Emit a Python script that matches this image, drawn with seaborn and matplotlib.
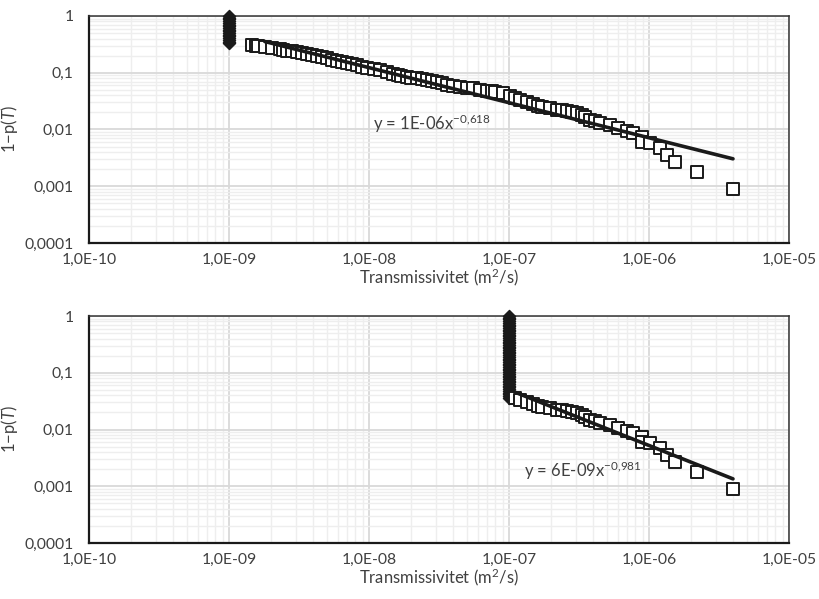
import numpy as np
import pandas as pd
import matplotlib
matplotlib.use("Agg")
import matplotlib.pyplot as plt
import matplotlib.ticker as mticker
import seaborn as sns

# ---------------- data ----------------
# top panel: squares (measured transmissivity) and column below detection limit
top_T = [1.46e-9, 1.55e-9, 1.61e-9, 1.8e-9, 2.03e-9, 2.3e-9, 2.45e-9, 2.6e-9, 2.8e-9, 3.06e-9,
         3.3e-9, 3.6e-9, 3.9e-9, 4.25e-9, 4.6e-9, 5.0e-9, 5.4e-9, 5.9e-9, 6.4e-9, 6.96e-9,
         7.5e-9, 8.2e-9, 8.9e-9, 9.7e-9, 1.08e-8, 1.2e-8, 1.35e-8, 1.48e-8, 1.6e-8, 1.7e-8,
         1.87e-8, 2.0e-8, 2.2e-8, 2.4e-8, 2.6e-8, 2.8e-8, 3.06e-8, 3.3e-8, 3.6e-8, 4.0e-8,
         4.47e-8, 5.0e-8, 5.5e-8, 6.2e-8, 6.96e-8, 7.5e-8, 8.0e-8, 9.1e-8, 1.02e-7, 1.1e-7,
         1.2e-7, 1.35e-7, 1.48e-7, 1.6e-7, 1.72e-7, 1.96e-7, 2.2e-7, 2.4e-7, 2.6e-7, 2.8e-7,
         3.06e-7, 3.3e-7, 3.5e-7, 3.8e-7, 4.1e-7, 4.47e-7, 5.3e-7, 6.0e-7, 6.96e-7, 7.7e-7,
         8.9e-7, 8.9e-7, 1.02e-6, 1.2e-6, 1.35e-6, 1.53e-6, 2.2e-6, 3.98e-6]
top_P = [0.308, 0.300, 0.296, 0.285, 0.273, 0.262, 0.255, 0.245, 0.238, 0.232,
         0.227, 0.218, 0.205, 0.195, 0.188, 0.180, 0.168, 0.158, 0.153, 0.148,
         0.143, 0.136, 0.128, 0.121, 0.116, 0.111, 0.102, 0.094, 0.090, 0.088,
         0.084, 0.082, 0.080, 0.077, 0.074, 0.071, 0.068, 0.065, 0.061, 0.058,
         0.056, 0.0545, 0.0535, 0.050, 0.048, 0.047, 0.046, 0.044, 0.039, 0.036,
         0.0331, 0.0305, 0.028, 0.026, 0.0249, 0.0239, 0.0225, 0.0222, 0.021, 0.020,
         0.0195, 0.018, 0.0166, 0.0147, 0.014, 0.013, 0.012, 0.0106, 0.0094, 0.0087,
         0.0074, 0.006, 0.0058, 0.0047, 0.00355, 0.00267, 0.00178, 0.00089]
top_col_T = 1e-9
top_col_P = [1.0, 0.933, 0.871, 0.813, 0.759, 0.708, 0.661, 0.617, 0.575, 0.537,
             0.501, 0.468, 0.437, 0.407, 0.380, 0.355, 0.331]

# bottom panel
bot_T = [1.1e-7, 1.2e-7, 1.35e-7, 1.48e-7, 1.6e-7, 1.72e-7, 1.96e-7, 2.2e-7, 2.4e-7, 2.6e-7,
         2.8e-7, 3.06e-7, 3.3e-7, 3.5e-7, 3.8e-7, 4.1e-7, 4.47e-7, 5.3e-7, 6.0e-7, 6.96e-7,
         7.7e-7, 8.9e-7, 8.9e-7, 1.02e-6, 1.2e-6, 1.35e-6, 1.53e-6, 2.2e-6, 3.98e-6]
bot_P = [0.036, 0.0331, 0.0305, 0.028, 0.026, 0.0249, 0.0239, 0.0225, 0.0222, 0.021,
         0.020, 0.0195, 0.018, 0.0166, 0.0147, 0.014, 0.013, 0.012, 0.0106, 0.0094,
         0.0087, 0.0074, 0.006, 0.0058, 0.0047, 0.00355, 0.00267, 0.00178, 0.00089]
bot_col_T = 1e-7
bot_col_P = [1.0, 0.933, 0.871, 0.813, 0.759, 0.708, 0.661, 0.617, 0.575, 0.537,
             0.501, 0.468, 0.437, 0.407, 0.380, 0.355, 0.331, 0.309, 0.288, 0.269,
             0.251, 0.234, 0.219, 0.204, 0.191, 0.178, 0.166, 0.155, 0.145, 0.135,
             0.126, 0.118, 0.110, 0.102, 0.0955, 0.0891, 0.0832, 0.0776, 0.0724, 0.0676,
             0.0631, 0.0589, 0.0550, 0.0513, 0.0479, 0.0447, 0.0417, 0.0389, 0.0363]

# trend lines (power law a*x^b) and their labels
top_trend = dict(a=1.4e-6, b=-0.618, x0=1.8e-9, x1=3.98e-6,
                 label="y = 1E-06x", exp_label="-0,618")
bot_trend = dict(a=6.8e-9, b=-0.981, x0=1.1e-7, x1=3.98e-6,
                 label="y = 6E-09x", exp_label="-0,981")

x_ticks = [1e-10, 1e-9, 1e-8, 1e-7, 1e-6, 1e-5]
x_tick_labels = ["1,0E-10", "1,0E-09", "1,0E-08", "1,0E-07", "1,0E-06", "1,0E-05"]
y_ticks = [1e-4, 1e-3, 1e-2, 1e-1, 1]
y_tick_labels = ["0,0001", "0,001", "0,01", "0,1", "1"]

# ---------------- style ----------------
sns.set_theme(style="white")
FONT = "Lato"
plt.rcParams["font.family"] = [FONT, "DejaVu Sans"]
plt.rcParams["mathtext.fontset"] = "custom"
plt.rcParams["mathtext.rm"] = FONT
plt.rcParams["mathtext.it"] = FONT + ":italic"
TXT = "#404040"

fig = plt.figure(figsize=(8.19, 5.99), dpi=100)
ax_top = fig.add_axes([89 / 819, 1 - 243 / 599, 700 / 819, 227 / 599])
ax_bot = fig.add_axes([89 / 819, 1 - 543 / 599, 700 / 819, 227 / 599])


def draw(ax, T, P, colT, colP, trend, text_xy):
    ax.set_xscale("log")
    ax.set_yscale("log")
    ax.set_xlim(1e-10, 1e-5)
    ax.set_ylim(1e-4, 1)
    ax.grid(True, which="major", color="#d9d9d9", lw=1.3)
    ax.grid(True, which="minor", color="#eeeeee", lw=1.0)
    ax.set_axisbelow(True)

    col_df = pd.DataFrame({"T": [colT] * len(colP), "P": colP})
    sns.scatterplot(data=col_df, x="T", y="P", marker="D", s=38, color="#1a1a1a",
                    edgecolor="#1a1a1a", linewidth=1.0, ax=ax, zorder=3, clip_on=False)

    xs = np.array([trend["x0"], trend["x1"]])
    ys = trend["a"] * xs ** trend["b"]
    sns.lineplot(x=xs, y=ys, color="#1a1a1a", lw=2.6, ax=ax, zorder=5, sort=False)

    df = pd.DataFrame({"T": T, "P": P})
    sns.scatterplot(data=df, x="T", y="P", marker="s", s=70, facecolor="white",
                    edgecolor="#1a1a1a", linewidth=1.4, ax=ax, zorder=4)

    ax.set_xticks(x_ticks)
    ax.set_xticklabels(x_tick_labels)
    ax.set_yticks(y_ticks)
    ax.set_yticklabels(y_tick_labels)
    ax.xaxis.set_minor_locator(mticker.LogLocator(base=10, subs=np.arange(2, 10)))
    ax.yaxis.set_minor_locator(mticker.LogLocator(base=10, subs=np.arange(2, 10)))
    ax.xaxis.set_minor_formatter(mticker.NullFormatter())
    ax.yaxis.set_minor_formatter(mticker.NullFormatter())
    ax.tick_params(which="both", direction="in", colors="#1a1a1a", labelcolor=TXT,
                   labelsize=11.3, top=False, right=False, width=1.0)
    ax.tick_params(which="major", length=5)
    ax.tick_params(which="minor", length=4)
    ax.tick_params(axis="x", pad=7)
    ax.tick_params(axis="y", pad=11)

    for s in ["left", "bottom"]:
        ax.spines[s].set_color("#1a1a1a")
        ax.spines[s].set_linewidth(1.6)
    for s in ["top", "right"]:
        ax.spines[s].set_color("#333333")
        ax.spines[s].set_linewidth(1.1)

    ax.set_xlabel("Transmissivitet (m$^2$/s)", fontsize=12, color=TXT, labelpad=0)
    ax.set_ylabel("1\u2212p($\\mathit{T}$)", fontsize=12, color=TXT)
    ax.yaxis.set_label_coords((20 - 89) / 700, 0.5)

    ax.annotate(trend["label"] + "$^{" + trend["exp_label"].replace(",", "{,}") + "}$",
                xy=text_xy, xycoords="figure pixels", fontsize=12, color=TXT,
                va="center", ha="left")


draw(ax_top, top_T, top_P, top_col_T, top_col_P, top_trend, (373, 599 - 124))
draw(ax_bot, bot_T, bot_P, bot_col_T, bot_col_P, bot_trend, (524, 599 - 471))

fig.savefig("out.png", dpi=100)
